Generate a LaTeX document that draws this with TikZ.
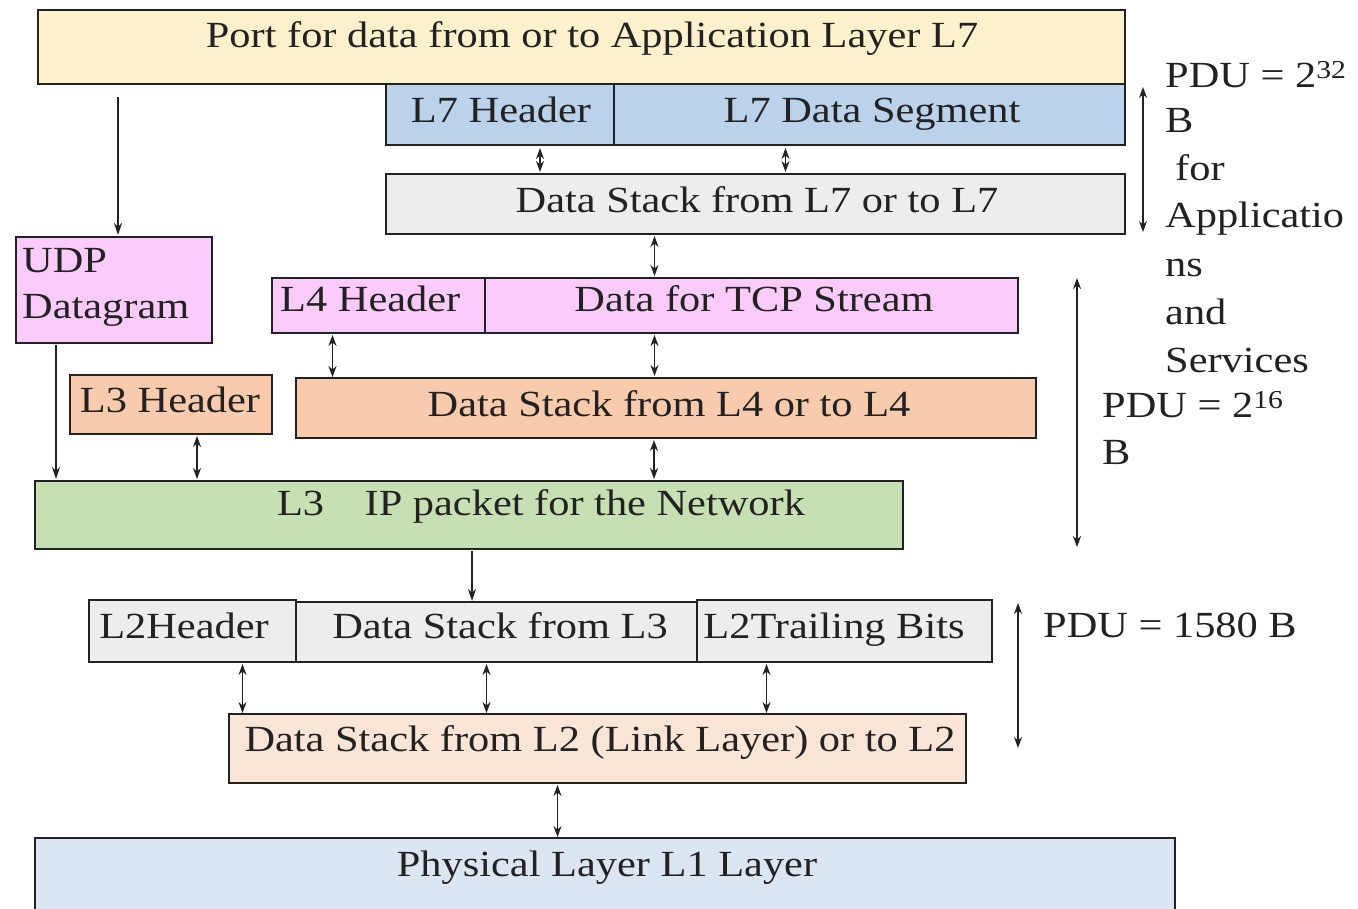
\documentclass[tikz,border=0pt]{standalone}
\usepackage{fontspec}
\setmainfont{Liberation Serif}[FakeStretch=1.15]
\usetikzlibrary{arrows.meta,calc}
\definecolor{cyel}{HTML}{FEF1CB}
\definecolor{cblu}{HTML}{BAD2EA}
\definecolor{cgry}{HTML}{EDEDED}
\definecolor{cpnk}{HTML}{FBCBFB}
\definecolor{csal}{HTML}{F8CBAD}
\definecolor{cgrn}{HTML}{C6E0B4}
\definecolor{cpch}{HTML}{FBE5D6}
\definecolor{cphy}{HTML}{DCE6F3}
\definecolor{cink}{HTML}{222222}
\newcommand\mkbox[6]{\node[box, fill=#6, minimum width={(#4-#2)*1bp}, minimum height={(#5-#3)*1bp}] (#1) at ({(#2+#4)/2},{(#3+#5)/2}) {};}
\begin{document}
\begin{tikzpicture}[x=1bp,y=-1bp,
  box/.style={draw=cink, line width=1.6bp, inner sep=0pt, outer sep=0pt},
  lbl/.style={anchor=base, inner sep=0pt, font=\fontsize{37}{42}\selectfont, text=cink},
  lblw/.style={lbl, anchor=base west},
  ar/.style={line width=1.6bp, draw=cink, -{Stealth[length=12bp,width=8bp]}},
  dar/.style={line width=1.6bp, draw=cink, {Stealth[length=11bp,width=8bp]}-{Stealth[length=11bp,width=8bp]}}
]
\useasboundingbox[fill=white] (0,0) rectangle (1358,908);
% boxes
\mkbox{top}{38}{10}{1125}{84}{cyel}
\mkbox{l7h}{386}{84}{614}{145}{cblu}
\mkbox{l7d}{614}{84}{1125}{145}{cblu}
\mkbox{ds7}{386}{174}{1125}{234}{cgry}
\mkbox{udp}{16}{237}{212}{343}{cpnk}
\mkbox{l4h}{272}{278}{485}{333}{cpnk}
\mkbox{tcp}{485}{278}{1018}{333}{cpnk}
\mkbox{l3h}{70}{375}{272}{434}{csal}
\mkbox{ds4}{296}{378}{1036}{438}{csal}
\mkbox{ip}{35}{481}{903}{549}{cgrn}
\mkbox{l2h}{89}{600}{296}{662}{cgry}
\mkbox{ds3}{296}{602}{697}{662}{cgry}
\mkbox{l2t}{697}{600}{992}{662}{cgry}
\mkbox{ds2}{229}{714}{966}{783}{cpch}
\mkbox{phy}{35}{838}{1175}{920}{cphy}
% labels
\node[lbl] (ttop) at (592,47) {Port for data from or to Application Layer L7};
\node[lbl] (tl7h) at (501,122) {L7 Header};
\node[lbl] (tl7d) at (872,122) {L7 Data Segment};
\node[lbl] (tds7) at (757,212) {Data Stack from L7 or to L7};
\node[lblw] (tudp1) at (22,272) {UDP};
\node[lblw] (tudp2) at (22,318) {Datagram};
\node[lblw] (tl4h) at (280,311) {L4 Header};
\node[lbl] (ttcp) at (754,311) {Data for TCP Stream};
\node[lbl] (tl3h) at (170,412) {L3 Header};
\node[lbl] (tds4) at (669,416) {Data Stack from L4 or to L4};
\node[lbl] (tip) at (541,515) {L3\hspace{1.1em}IP packet for the Network};
\node[lbl] (tl2h) at (184,638) {L2Header};
\node[lbl] (tds3) at (500,638) {Data Stack from L3};
\node[lbl] (tl2t) at (834,638) {L2Trailing Bits};
\node[lbl] (tds2) at (600,751) {Data Stack from L2 (Link Layer) or to L2};
\node[lbl] (tphy) at (607,876) {Physical Layer L1 Layer};
% PDU notes
\node[lblw] (n1) at (1165,87) {PDU = 2\textsuperscript{32}};
\node[lblw] (n2) at (1165,132) {B};
\node[lblw] (n3) at (1175,180) {for};
\node[lblw] (n4) at (1165,227) {Applicatio};
\node[lblw] (n5) at (1165,276) {ns};
\node[lblw] (n6) at (1165,324) {and};
\node[lblw] (n7) at (1165,372) {Services};
\node[lblw] (m1) at (1102,417) {PDU = 2\textsuperscript{16}};
\node[lblw] (m2) at (1102,464) {B};
\node[lblw] (k1) at (1043,637) {PDU = 1580 B};
\coordinate (p1a) at (1143,87);
\coordinate (p1b) at (1143,232);
\coordinate (p2a) at (1077,278);
\coordinate (p2b) at (1077,547);
\coordinate (p3a) at (1018,603);
\coordinate (p3b) at (1018,748);
\draw[dar] (p1a) -- (p1b);
\draw[dar] (p2a) -- (p2b);
\draw[dar] (p3a) -- (p3b);
% connectors
\draw[ar] ($(top.south -| udp.north)+(4,13)$) -- ($(udp.north)+(4,-2)$);
\draw[dar] ($(l7h.south)+(40,3)$) -- ($(l7h.south |- ds7.north)+(40,-2)$);
\draw[dar] ($(l7d.south)+(-84,3)$) -- ($(l7d.south |- ds7.north)+(-84,-2)$);
\draw[dar] ($(ds7.south)+(-101,2)$) -- ($(ds7.south |- tcp.north)+(-101,-2)$);
\draw[dar] ($(l4h.south)+(-46,2)$) -- ($(l4h.south |- ds4.north)+(-46,-1)$);
\draw[dar] ($(tcp.south)+(-97,2)$) -- ($(tcp.south |- ds4.north)+(-97,-2)$);
\draw[ar] ($(udp.south)+(-58,2)$) -- ($(udp.south |- ip.north)+(-58,-2)$);
\draw[dar] ($(l3h.south)+(26,2)$) -- ($(l3h.south |- ip.north)+(26,-2)$);
\draw[dar] ($(ds4.south)+(-12,2)$) -- ($(ds4.south |- ip.north)+(-12,-2)$);
\draw[ar] ($(ip.south)+(3,2)$) -- ($(ip.south |- ds3.north)+(3,-1)$);
\draw[dar] ($(l2h.south)+(50,2)$) -- ($(l2h.south |- ds2.north)+(50,-1)$);
\draw[dar] ($(ds3.south)+(-10,2)$) -- ($(ds3.south |- ds2.north)+(-10,-1)$);
\draw[dar] ($(l2t.south)+(-78,2)$) -- ($(l2t.south |- ds2.north)+(-78,-1)$);
\draw[dar] ($(ds2.south)+(-40,2)$) -- ($(ds2.south |- phy.north)+(-40,-1)$);
\end{tikzpicture}
\end{document}
